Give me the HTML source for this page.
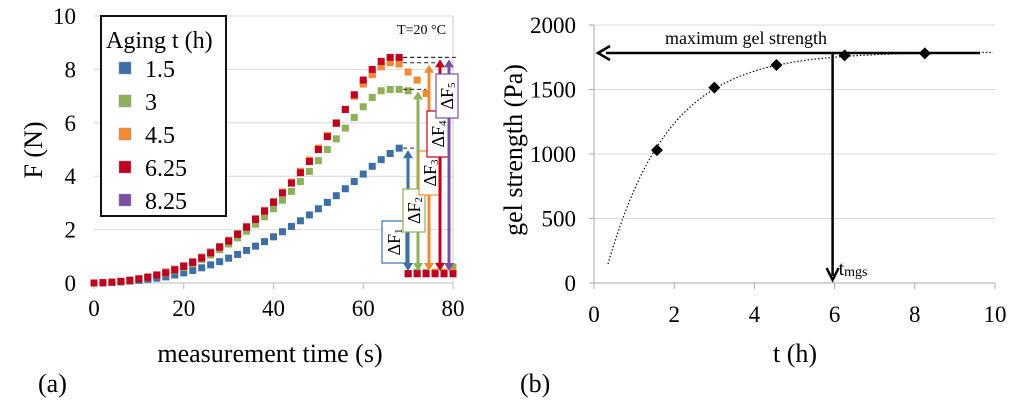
<!DOCTYPE html>
<html><head><meta charset="utf-8"><style>
body{margin:0;background:#fff;}
svg{display:block;font-family:"Liberation Serif",serif;}
</style></head><body>
<svg id="fig" width="1024" height="404" viewBox="0 0 1024 404"></svg>
<script>
// ---- chart (a) data ----
const timesA = [0,2,4,6,8,10,12,14,16,18,20,22,24,26,28,30,32,34,36,38,40,42,44,46,48,50,52,54,56,58,60,62,64,66,68,70,72,74,76,78,80];
const seriesNames = ["1.5","3","4.5","6.25","8.25"];
const f15  = [0,0,0.02,0.04,0.07,0.1,0.14,0.18,0.23,0.3,0.38,0.47,0.57,0.68,0.8,0.93,1.07,1.22,1.38,1.55,1.73,1.92,2.12,2.33,2.55,2.78,3.02,3.27,3.53,3.8,4.08,4.37,4.62,4.85,5.05,0.35,0.35,0.35,0.35,0.35,0.35];
const f3   = [0,0.01,0.03,0.06,0.1,0.15,0.21,0.28,0.36,0.46,0.58,0.72,0.88,1.05,1.25,1.46,1.69,1.94,2.2,2.48,2.78,3.1,3.43,3.8,4.18,4.58,5.0,5.4,5.8,6.2,6.6,6.95,7.2,7.25,7.25,7.2,0.4,0.4,0.4,0.4,0.6];
const f45  = [0,0.01,0.03,0.06,0.1,0.16,0.22,0.3,0.4,0.51,0.64,0.79,0.96,1.15,1.36,1.59,1.84,2.11,2.4,2.71,3.04,3.4,3.78,4.18,4.6,5.05,5.52,6.0,6.5,7.0,7.45,7.8,8.1,8.25,8.2,7.9,7.6,7.1,0.4,0.4,0.4];
const f625 = [0,0.01,0.03,0.06,0.1,0.15,0.21,0.29,0.38,0.49,0.62,0.77,0.94,1.13,1.34,1.57,1.82,2.09,2.38,2.69,3.02,3.37,3.74,4.13,4.55,5.0,5.48,5.98,6.5,7.05,7.6,8.0,8.3,8.45,8.45,0.35,0.35,0.35,0.35,0.35,0.35];
const f825 = [0,0.01,0.03,0.06,0.11,0.16,0.23,0.31,0.41,0.52,0.65,0.8,0.97,1.16,1.37,1.6,1.85,2.12,2.41,2.72,3.05,3.4,3.77,4.16,4.57,5.02,5.5,6.0,6.5,7.0,7.5,7.85,8.1,8.3,8.35,0.35,0.35,0.35,0.35,0.35,0.35];
const peaksA = [5.05,7.25,8.25,8.45,8.45];
const xTicksA = [0,20,40,60,80];
const yTicksA = [0,2,4,6,8,10];
// ---- chart (b) data ----
const agingT = [1.57,3.0,4.55,6.25,8.25];
const gelStrength = [1030,1515,1690,1765,1780];
const maxGel = 1783;
const tMgs = 5.95;
const fitA = 1790, fitK = 0.66, fitT0 = 0.22;
const xTicksB = [0,2,4,6,8,10];
const yTicksB = [0,500,1000,1500,2000];

const NS="http://www.w3.org/2000/svg";
const svg=document.getElementById('fig');
function mk(tag,attrs,parent,text){const e=document.createElementNS(NS,tag);for(const k in attrs)e.setAttribute(k,attrs[k]);if(text!==undefined)e.textContent=text;(parent||svg).appendChild(e);return e;}

const xA=v=>94+v*(453-94)/80, yA=v=>283-v*(283-16)/10;
const xB=v=>594+v*(995-594)/10, yB=v=>283-v*(283-25)/2000;

// ---- chart A ----
const gA=mk('g',{});


yTicksA.forEach(v=>{
  if(v>0){const l=mk('line',{x1:xA(0),x2:xA(80),y1:yA(v),y2:yA(v),stroke:'#d9d9d9','stroke-width':1},gA);
  }
  const t=mk('text',{x:76,y:yA(v)+8,'font-size':23,'text-anchor':'end'},gA,String(v));
  
});
mk('line',{x1:xA(0),x2:xA(80),y1:yA(0),y2:yA(0),stroke:'#bbb'},gA);
mk('line',{x1:xA(80),x2:xA(80),y1:yA(0),y2:yA(10),stroke:'#ccc'},gA);
xTicksA.forEach(v=>{
  mk('line',{x1:xA(v),x2:xA(v),y1:283,y2:289,stroke:'#bbb'},gA);
  const t=mk('text',{x:xA(v),y:316,'font-size':23,'text-anchor':'middle'},gA,String(v));
  
});
const colors=['#3d6ea8','#8fb05a','#f28a33','#c00020','#7a4fa3'];
const seriesA=[f15,f3,f45,f625,f825];
[0,1,4,2,3].forEach(i=>{
  const s=seriesA[i];
  s.forEach((v,j)=>{
    const r=mk('rect',{x:xA(timesA[j])-3.5,y:yA(v)-3.5,width:7,height:7,fill:colors[i]},gA);
    
    
  });
});
const arrowX=[408,418,429,440,449];
const boxes=[[382,221,24,42],[403,189,22,43],[419,151,22,44],[427,111,22,46],[436,74,22,44]];
const sub=['1','2','3','4','5'];
peaksA.forEach((p,i)=>{
  const top=yA(p)+2, bot=271;
  mk('line',{x1:xA(68)+4,x2:arrowX[i]+8,y1:yA(p),y2:yA(p),stroke:'#222','stroke-dasharray':'4,3'},gA);
  const a=mk('line',{x1:arrowX[i],x2:arrowX[i],y1:top+6,y2:bot-6,stroke:colors[i],'stroke-width':3},gA);
  
  mk('polygon',{points:`${arrowX[i]-5},${top+8} ${arrowX[i]+5},${top+8} ${arrowX[i]},${top}`,fill:colors[i]},gA);
  mk('polygon',{points:`${arrowX[i]-5},${bot-8} ${arrowX[i]+5},${bot-8} ${arrowX[i]},${bot}`,fill:colors[i]},gA);
  const b=boxes[i];
  const bx=mk('rect',{x:b[0],y:b[1],width:b[2],height:b[3],fill:'#fff',stroke:colors[i],'stroke-width':1.2},gA);
  
  const cx=b[0]+b[2]/2+6, cy=b[1]+b[3]/2;
  const t=mk('text',{x:cx,y:cy,'font-size':18,'text-anchor':'middle',transform:`rotate(-90 ${cx} ${cy})`},gA);
  
  t.appendChild(document.createTextNode('ΔF'));
  mk('tspan',{'font-size':11,dy:2},t,sub[i]);
});
const tl=mk('text',{x:446,y:34,'font-size':14,'text-anchor':'end'},gA,'T=20 °C');

const lg=mk('g',{},gA);

mk('rect',{x:101,y:16,width:125,height:200,fill:'#fff',stroke:'#111','stroke-width':2},lg);
mk('text',{x:106,y:48,'font-size':24},lg,'Aging t (h)');
seriesNames.forEach((n,i)=>{
  const y=68+i*33;
  const r=mk('rect',{x:119,y:y-6,width:12,height:12,fill:colors[i],stroke:'#999','stroke-width':0.5},lg);
  
  const t=mk('text',{x:145,y:y+9,'font-size':24},lg,n);
  
});
let t1=mk('text',{x:270,y:362,'font-size':26,'text-anchor':'middle'},gA,'measurement time (s)');

let t2=mk('text',{x:42,y:150,'font-size':26,'text-anchor':'middle',transform:'rotate(-90 42 150)'},gA,'F (N)');

let t3=mk('text',{x:38,y:392,'font-size':26},gA,'(a)');


// ---- chart B ----
const gB=mk('g',{});


yTicksB.forEach(v=>{
  if(v>0){const l=mk('line',{x1:xB(0),x2:xB(10),y1:yB(v),y2:yB(v),stroke:'#d9d9d9'},gB);
  }
  mk('line',{x1:xB(0)-5,x2:xB(0),y1:yB(v),y2:yB(v),stroke:'#aaa'},gB);
  const t=mk('text',{x:576,y:yB(v)+8,'font-size':23,'text-anchor':'end'},gB,String(v));
  
});
mk('line',{x1:xB(0),x2:xB(0),y1:yB(0),y2:yB(2000),stroke:'#aaa'},gB);
mk('line',{x1:xB(0),x2:xB(10),y1:yB(0),y2:yB(0),stroke:'#aaa'},gB);
xTicksB.forEach(v=>{
  mk('line',{x1:xB(v),x2:xB(v),y1:283,y2:289,stroke:'#aaa'},gB);
  const t=mk('text',{x:xB(v),y:322,'font-size':23,'text-anchor':'middle'},gB,String(v));
  
});
let d='';
for(let tt=0.35;tt<=10.001;tt+=0.1){const g=fitA*(1-Math.exp(-fitK*(tt-fitT0)));d+=(d?'L':'M')+xB(tt).toFixed(1)+','+yB(g).toFixed(1);}
const fc=mk('path',{d:d,fill:'none',stroke:'#111','stroke-width':1.2,'stroke-dasharray':'1.5,2'},gB);

const ml=mk('line',{x1:xB(0)+12,x2:980,y1:yB(maxGel),y2:yB(maxGel),stroke:'#000','stroke-width':2.5},gB);

mk('polyline',{points:`${xB(0)+16},${yB(maxGel)-7} ${xB(0)+4},${yB(maxGel)} ${xB(0)+16},${yB(maxGel)+7}`,fill:'none',stroke:'#000','stroke-width':2.5},gB);
const mt=mk('text',{x:746,y:44,'font-size':18,'text-anchor':'middle'},gB,'maximum gel strength');

const va=mk('line',{x1:xB(tMgs),x2:xB(tMgs),y1:yB(maxGel),y2:276,stroke:'#000','stroke-width':2.5},gB);

mk('polyline',{points:`${xB(tMgs)-6},${268} ${xB(tMgs)},${280} ${xB(tMgs)+6},${268}`,fill:'none',stroke:'#000','stroke-width':2.5},gB);
const tm=mk('text',{x:xB(tMgs)+6,y:275,'font-size':20},gB);

tm.appendChild(document.createTextNode('t'));
mk('tspan',{'font-size':14,dy:1},tm,'mgs');
agingT.forEach((t,i)=>{
  const x=xB(t),y=yB(gelStrength[i]);
  const p=mk('polygon',{points:`${x},${y-6} ${x+6},${y} ${x},${y+6} ${x-6},${y}`,fill:'#000'},gB);
  
});
let t4=mk('text',{x:795,y:362,'font-size':26,'text-anchor':'middle'},gB,'t (h)');

let t5=mk('text',{x:522,y:150,'font-size':26,'text-anchor':'middle',transform:'rotate(-90 522 150)'},gB,'gel strength (Pa)');

let t6=mk('text',{x:520,y:392,'font-size':26},gB,'(b)');

</script>
</body></html>
